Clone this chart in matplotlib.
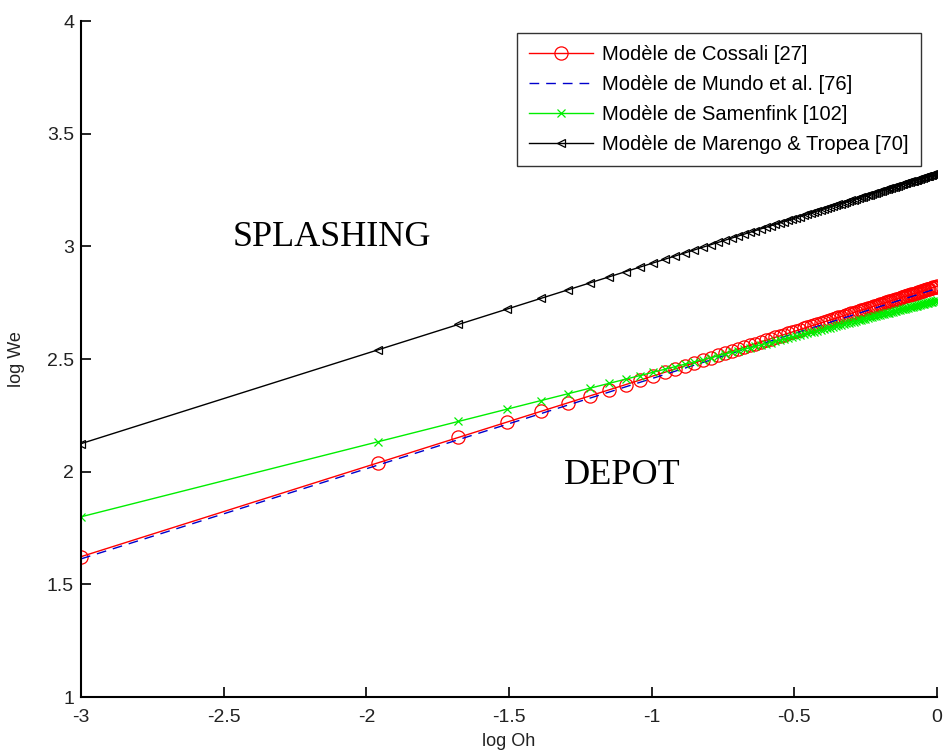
import numpy as np
import matplotlib
matplotlib.use("Agg")
import matplotlib.pyplot as plt

# Ohnesorge numbers at which each model was evaluated (marker positions)
oh_values = [0.001, 0.011, 0.021, 0.031, 0.041, 0.051, 0.061, 0.071, 0.081, 0.091,
             0.101, 0.111, 0.121, 0.131, 0.141, 0.151, 0.161, 0.171, 0.181, 0.191,
             0.201, 0.211, 0.221, 0.231, 0.241, 0.251, 0.261, 0.271, 0.281, 0.291,
             0.301, 0.311, 0.321, 0.331, 0.341, 0.351, 0.361, 0.371, 0.381, 0.391,
             0.401, 0.411, 0.421, 0.431, 0.441, 0.451, 0.461, 0.471, 0.481, 0.491,
             0.501, 0.511, 0.521, 0.531, 0.541, 0.551, 0.561, 0.571, 0.581, 0.591,
             0.601, 0.611, 0.621, 0.631, 0.641, 0.651, 0.661, 0.671, 0.681, 0.691,
             0.701, 0.711, 0.721, 0.731, 0.741, 0.751, 0.761, 0.771, 0.781, 0.791,
             0.801, 0.811, 0.821, 0.831, 0.841, 0.851, 0.861, 0.871, 0.881, 0.891,
             0.901, 0.911, 0.921, 0.931, 0.941, 0.951, 0.961, 0.971, 0.981, 0.991, 1.0]

# Splashing threshold models: We_c = K * Oh^p
labels = ["Modèle de Cossali [27]",
          "Modèle de Mundo et al. [76]",
          "Modèle de Samenfink [102]",
          "Modèle de Marengo & Tropea [70]"]
model_K = [665.0, 650.0, 575.0, 2110.0]
model_p = [0.40, 0.40, 0.32, 0.40]

xticks = [-3, -2.5, -2, -1.5, -1, -0.5, 0]
xticklabels = ["-3", "-2.5", "-2", "-1.5", "-1", "-0.5", "0"]
yticks = [1, 1.5, 2, 2.5, 3, 3.5, 4]
yticklabels = ["1", "1.5", "2", "2.5", "3", "3.5", "4"]

styles = [
    dict(color="#ff0000", linestyle="-", marker="o", markersize=9.5, markerfacecolor="none", markeredgewidth=0.9),
    dict(color="#0000cc", linestyle=(0, (7, 5)), marker=None),
    dict(color="#00ee00", linestyle="-", marker="x", markersize=6, markeredgewidth=0.9),
    dict(color="#000000", linestyle="-", marker="<", markersize=6, markerfacecolor="none", markeredgewidth=0.9),
]

plt.rcParams["font.family"] = ["Liberation Sans", "DejaVu Sans"]

W, H = 943, 753
fig = plt.figure(figsize=(W / 100, H / 100), dpi=100)
ax = fig.add_axes([81 / W, (H - 697) / H, (937 - 81) / W, (697 - 21) / H])

log_oh = np.log10(np.array(oh_values))
for lab, K, p, st in zip(labels, model_K, model_p, styles):
    log_we = np.log10(K * np.array(oh_values) ** p)
    ax.plot(log_oh, log_we, linewidth=1.0, label=lab, **st)

ax.set_xlim(-3, 0)
ax.set_ylim(1, 4)
ax.set_xticks(xticks)
ax.set_xticklabels(xticklabels)
ax.set_yticks(yticks)
ax.set_yticklabels(yticklabels)
ax.tick_params(direction="in", length=7, width=1.2, labelsize=14)
ax.tick_params(axis="x", pad=9)
ax.tick_params(axis="y", pad=5)
ax.spines["top"].set_visible(False)
ax.spines["right"].set_visible(False)
ax.spines["left"].set_linewidth(1.5)
ax.spines["bottom"].set_linewidth(1.5)
for lab in ax.get_xticklabels() + ax.get_yticklabels():
    lab.set_color("#222222")

ax.set_xlabel("log Oh", fontsize=13, labelpad=5, color="#222222")
ax.set_ylabel("log We", fontsize=13, color="#222222")
ax.yaxis.set_label_coords(-0.066, 0.5)

serif = ["Liberation Serif", "DejaVu Serif"]
ax.text(-2.12, 3.04, "SPLASHING", fontsize=26, family=serif, ha="center", va="center")
ax.text(-1.104, 1.985, "DEPOT", fontsize=26, family=serif, ha="center", va="center")

leg = ax.legend(loc="upper right", bbox_to_anchor=(921 / W, 1 - 33 / H),
                bbox_transform=fig.transFigure, borderaxespad=0, fontsize=14.5,
                frameon=True, fancybox=False, edgecolor="black", handlelength=3.2,
                borderpad=0.6, labelspacing=0.55, handletextpad=0.45)
leg.get_frame().set_linewidth(1.0)

fig.savefig("out.png", dpi=100)
